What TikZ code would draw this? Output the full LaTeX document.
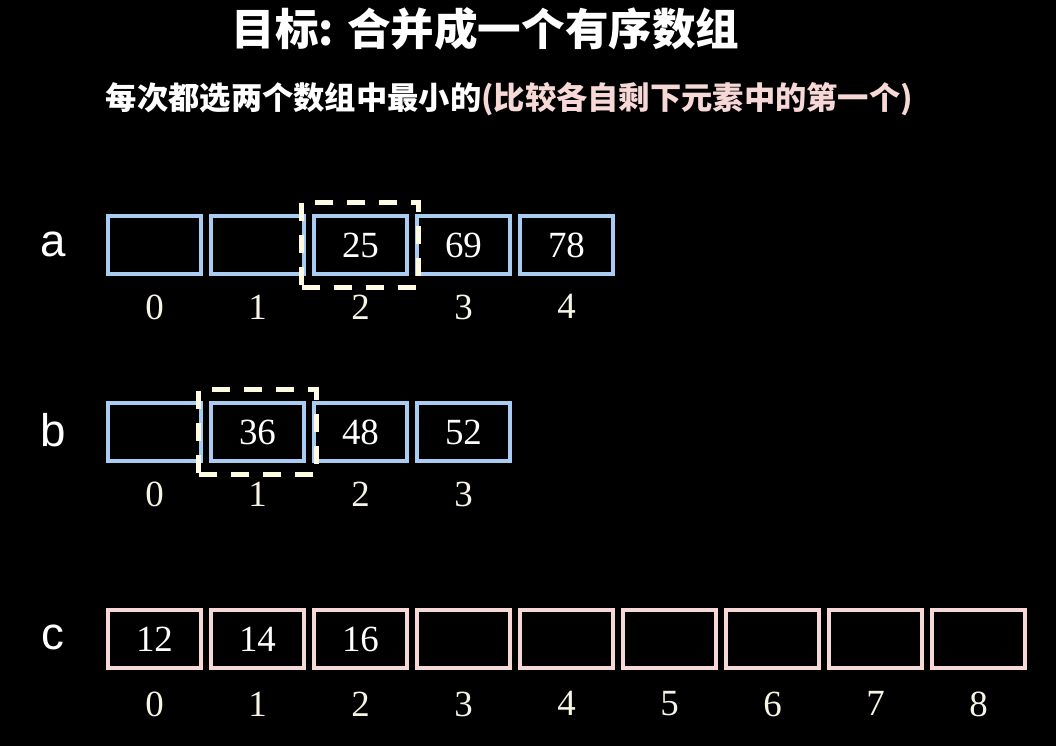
\documentclass[tikz,border=0pt]{standalone}
\usepackage{fontspec}
\setmainfont{Liberation Serif}
\setsansfont{Liberation Sans}
\newfontfamily\cjk{Noto Sans CJK SC}
\usetikzlibrary{positioning, fit}

\definecolor{cellblue}{HTML}{A9CDF2}
\definecolor{cellpink}{HTML}{F6D9D6}
\definecolor{idxcream}{HTML}{F6F4E4}
\definecolor{pickcream}{HTML}{FFFBE3}

\begin{document}
\begin{tikzpicture}[
  cell/.style    = {draw, rectangle, line width=0.04cm, minimum width=0.93cm,
                    minimum height=0.58cm, inner sep=0pt, text=white,
                    font=\fontsize{10.5}{12}\selectfont},
  acell/.style   = {cell, draw=cellblue},
  ccell/.style   = {cell, draw=cellpink},
  idx/.style     = {text=idxcream, inner sep=0pt, font=\fontsize{10.5}{12}\selectfont},
  arrname/.style = {text=white, inner sep=0pt, anchor=base,
                    font=\sffamily\fontsize{13}{15}\selectfont},
  pick/.style    = {draw=pickcream, line width=0.05cm, dash pattern=on 0.18cm off 0.14cm,
                    inner xsep=0.1cm, inner ysep=0.115cm},
]
  % ---- background, fixes the page size ----
  \useasboundingbox (0,0) rectangle (10.56,-7.46);
  \fill[black] (-0.05,0.05) rectangle (10.61,-7.51);

  % ---- headings ----
  \node[text=white, inner sep=0pt, font=\cjk\bfseries\fontsize{12.4}{14}\selectfont] (title) at (4.855,-0.29)
    {目标: 合并成一个有序数组};
  \node[text=white, inner sep=0pt, font=\cjk\bfseries\fontsize{8.9}{10}\selectfont] (hint) at (5.095,-0.99)
    {每次都选两个数组中最小的\textcolor{cellpink}{(比较各自剩下元素中的第一个)}};

  % ---- array a ----
  \node[arrname] (na) at (0.53,-2.57) {a};
  \node[acell]                      (a0) at (1.545,-2.45) {};
  \node[acell, right=0.06cm of a0]  (a1) {};
  \node[acell, right=0.06cm of a1]  (a2) {25};
  \node[acell, right=0.06cm of a2]  (a3) {69};
  \node[acell, right=0.06cm of a3]  (a4) {78};

  \node[idx, below=0.18cm of a0] (ia0) {0};
  \node[idx, below=0.18cm of a1] (ia1) {1};
  \node[idx, below=0.18cm of a2] (ia2) {2};
  \node[idx, below=0.18cm of a3] (ia3) {3};
  \node[idx, below=0.18cm of a4] (ia4) {4};

  % ---- array b ----
  \node[arrname] (nb) at (0.53,-4.47) {b};
  \node[acell]                      (b0) at (1.545,-4.325) {};
  \node[acell, right=0.06cm of b0]  (b1) {36};
  \node[acell, right=0.06cm of b1]  (b2) {48};
  \node[acell, right=0.06cm of b2]  (b3) {52};

  \node[idx, below=0.18cm of b0] (ib0) {0};
  \node[idx, below=0.18cm of b1] (ib1) {1};
  \node[idx, below=0.18cm of b2] (ib2) {2};
  \node[idx, below=0.18cm of b3] (ib3) {3};

  % ---- merged array c ----
  \node[arrname] (nc) at (0.53,-6.50) {c};
  \node[ccell]                      (c0) at (1.545,-6.39) {12};
  \node[ccell, right=0.06cm of c0]  (c1) {14};
  \node[ccell, right=0.06cm of c1]  (c2) {16};
  \node[ccell, right=0.06cm of c2]  (c3) {};
  \node[ccell, right=0.06cm of c3]  (c4) {};
  \node[ccell, right=0.06cm of c4]  (c5) {};
  \node[ccell, right=0.06cm of c5]  (c6) {};
  \node[ccell, right=0.06cm of c6]  (c7) {};
  \node[ccell, right=0.06cm of c7]  (c8) {};

  \node[idx, below=0.21cm of c0] (ic0) {0};
  \node[idx, below=0.21cm of c1] (ic1) {1};
  \node[idx, below=0.21cm of c2] (ic2) {2};
  \node[idx, below=0.21cm of c3] (ic3) {3};
  \node[idx, below=0.21cm of c4] (ic4) {4};
  \node[idx, below=0.21cm of c5] (ic5) {5};
  \node[idx, below=0.21cm of c6] (ic6) {6};
  \node[idx, below=0.21cm of c7] (ic7) {7};
  \node[idx, below=0.21cm of c8] (ic8) {8};

  % ---- current front of each input array ----
  \node[pick, fit=(a2)] (pa) {};
  \node[pick, fit=(b1)] (pb) {};
\end{tikzpicture}
\end{document}
